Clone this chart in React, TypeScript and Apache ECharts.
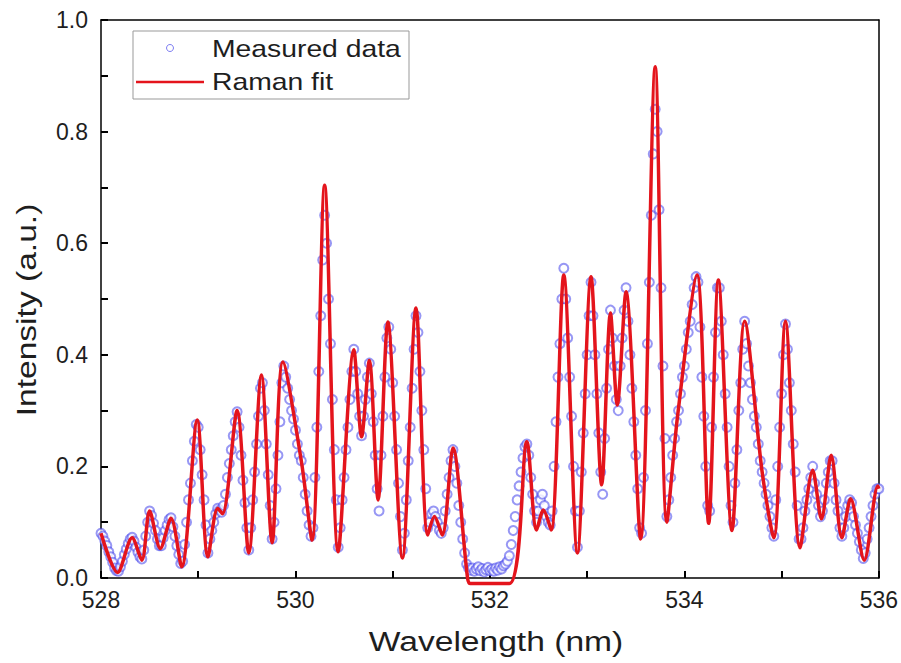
import React, { useEffect, useRef } from "react";
import * as echarts from "echarts";

// Raman fit: key points (wavelength nm, intensity a.u.)
const fitWavelength = [
  528.0, 528.17, 528.32, 528.42, 528.5, 528.61, 528.72, 528.83, 528.99, 529.1,
  529.2, 529.25, 529.4, 529.52, 529.65, 529.76, 529.87, 530.06, 530.17, 530.3,
  530.44, 530.6, 530.68, 530.76, 530.85, 530.95, 531.1, 531.24, 531.36, 531.43,
  531.51, 531.62, 531.77, 531.8, 532.2, 532.38, 532.48, 532.55, 532.63, 532.76,
  532.9, 533.04, 533.15, 533.24, 533.31, 533.4, 533.55, 533.7, 533.82, 533.93,
  534.13, 534.25, 534.35, 534.49, 534.62, 534.8, 534.92, 535.04, 535.19, 535.32,
  535.41, 535.51, 535.62, 535.71, 535.85, 535.99, 536.0,
];
const fitIntensity = [
  0.08, 0.01, 0.072, 0.032, 0.12, 0.053, 0.107, 0.02, 0.283, 0.038,
  0.125, 0.115, 0.3, 0.045, 0.364, 0.063, 0.387, 0.21, 0.068, 0.704,
  0.047, 0.409, 0.253, 0.39, 0.14, 0.459, 0.036, 0.484, 0.077, 0.11,
  0.077, 0.233, 0.0, -0.01, -0.01, 0.244, 0.086, 0.122, 0.086, 0.543,
  0.045, 0.54, 0.167, 0.475, 0.31, 0.513, 0.07, 0.916, 0.1, 0.29,
  0.543, 0.098, 0.534, 0.085, 0.46, 0.19, 0.072, 0.46, 0.054, 0.193,
  0.106, 0.22, 0.072, 0.142, 0.032, 0.165, 0.16,
];

// Measured data: sampled every 0.02 nm from 528.00 to 536.00
const measuredStart = 528.0;
const measuredStep = 0.02;
const measuredIntensity = [
  0.08, 0.075, 0.066, 0.058, 0.047, 0.038, 0.028, 0.018, 0.013, 0.012,
  0.02, 0.03, 0.042, 0.052, 0.062, 0.07, 0.073, 0.066, 0.055, 0.046,
  0.038, 0.034, 0.05, 0.075, 0.1, 0.12, 0.112, 0.098, 0.085, 0.07,
  0.058, 0.058, 0.072, 0.085, 0.095, 0.105, 0.108, 0.092, 0.075, 0.058,
  0.042, 0.026, 0.03, 0.06, 0.1, 0.14, 0.17, 0.21, 0.245, 0.275,
  0.27, 0.23, 0.185, 0.14, 0.095, 0.045, 0.07, 0.085, 0.1, 0.115,
  0.125, 0.122, 0.118, 0.13, 0.15, 0.18, 0.205, 0.23, 0.255, 0.28,
  0.298, 0.27, 0.22, 0.175, 0.135, 0.09, 0.05, 0.09, 0.14, 0.19,
  0.24, 0.29, 0.34, 0.35, 0.3, 0.24, 0.185, 0.13, 0.07, 0.1,
  0.16, 0.22, 0.28, 0.35, 0.38, 0.36, 0.34, 0.32, 0.3, 0.285,
  0.265, 0.24, 0.22, 0.21, 0.18, 0.15, 0.12, 0.095, 0.075, 0.09,
  0.18, 0.27, 0.37, 0.47, 0.57, 0.65, 0.6, 0.5, 0.42, 0.32,
  0.23, 0.14, 0.055, 0.09, 0.14, 0.18, 0.23, 0.27, 0.32, 0.37,
  0.41, 0.37, 0.33, 0.29, 0.255, 0.29, 0.32, 0.36, 0.385, 0.33,
  0.28, 0.22, 0.16, 0.12, 0.22, 0.29, 0.36, 0.43, 0.45, 0.41,
  0.35, 0.29, 0.23, 0.17, 0.11, 0.05, 0.08, 0.14, 0.21, 0.27,
  0.34, 0.41, 0.47, 0.44, 0.37, 0.3, 0.23, 0.16, 0.09, 0.1,
  0.115, 0.12, 0.11, 0.1, 0.085, 0.08, 0.09, 0.12, 0.15, 0.18,
  0.21, 0.23, 0.2, 0.17, 0.13, 0.1, 0.07, 0.045, 0.025, 0.018,
  0.014, 0.018, 0.012, 0.016, 0.02, 0.013, 0.017, 0.011, 0.015, 0.019,
  0.013, 0.016, 0.012, 0.018, 0.014, 0.02, 0.016, 0.022, 0.025, 0.03,
  0.04, 0.06, 0.085, 0.11, 0.14, 0.165, 0.19, 0.215, 0.235, 0.24,
  0.22, 0.18, 0.15, 0.12, 0.1, 0.12, 0.14, 0.15, 0.13, 0.11,
  0.1, 0.095, 0.12, 0.2, 0.28, 0.36, 0.42, 0.5, 0.555, 0.5,
  0.43, 0.36, 0.29, 0.2, 0.12, 0.055, 0.12, 0.19, 0.26, 0.33,
  0.4, 0.47, 0.53, 0.47, 0.4, 0.33, 0.26, 0.19, 0.15, 0.25,
  0.34, 0.41, 0.48, 0.43, 0.38, 0.32, 0.3, 0.38, 0.43, 0.48,
  0.52, 0.46, 0.4, 0.34, 0.28, 0.22, 0.16, 0.09, 0.08, 0.18,
  0.3, 0.42, 0.53, 0.65, 0.76, 0.84, 0.8, 0.66, 0.52, 0.38,
  0.25, 0.11, 0.14, 0.18, 0.22, 0.25, 0.28, 0.3, 0.33, 0.36,
  0.38, 0.41, 0.44, 0.46, 0.49, 0.52, 0.54, 0.53, 0.45, 0.36,
  0.29, 0.2, 0.13, 0.12, 0.27, 0.36, 0.44, 0.52, 0.52, 0.46,
  0.4, 0.33, 0.27, 0.2, 0.13, 0.1, 0.17, 0.23, 0.3, 0.35,
  0.41, 0.46, 0.42, 0.38, 0.35, 0.32, 0.29, 0.27, 0.24, 0.21,
  0.19, 0.17, 0.15, 0.13, 0.11, 0.09, 0.075, 0.14, 0.2, 0.27,
  0.33, 0.4, 0.455, 0.41, 0.35, 0.3, 0.24, 0.19, 0.13, 0.07,
  0.07, 0.09, 0.12, 0.14, 0.16, 0.18, 0.2, 0.17, 0.15, 0.13,
  0.11, 0.12, 0.14, 0.17, 0.19, 0.21, 0.21, 0.17, 0.14, 0.12,
  0.09, 0.075, 0.09, 0.11, 0.13, 0.14, 0.135, 0.11, 0.095, 0.08,
  0.065, 0.05, 0.035, 0.045, 0.07, 0.09, 0.11, 0.13, 0.15, 0.16,
  0.16,
];

const yTickLabels = ["0.0", "0.2", "0.4", "0.6", "0.8", "1.0"];
const xTickLabels = ["528", "530", "532", "534", "536"];

const FONT = "'Liberation Sans', Arial, sans-serif";
const BLUE = "rgba(70,70,235,0.7)";
const RED = "#e4141c";
const TEXT = "#1e1e1e";

export default function App() {
  const ref = useRef<HTMLDivElement>(null);

  useEffect(() => {
    if (!ref.current) return;
    const chart = echarts.init(ref.current, undefined, { renderer: "svg" });

    const fitData = fitWavelength.map((w, i) => [w, fitIntensity[i]]);
    const measuredData = measuredIntensity.map((v, i) => [
      +(measuredStart + i * measuredStep).toFixed(2),
      v,
    ]);

    const tickLine = { color: "#000000", width: 2, type: "solid" };
    const frameAxis = {
      axisLine: { show: true, onZero: false, lineStyle: { color: "#000", width: 1.5 } },
      axisTick: { show: false },
      axisLabel: { show: false },
      splitLine: { show: false },
    };

    chart.setOption({
      animation: false,
      backgroundColor: "#ffffff",
      grid: { left: 101, right: 22, top: 20, bottom: 85 },
      xAxis: [
        {
          type: "value",
          min: 528,
          max: 536,
          interval: 1,
          position: "bottom",
          axisLine: { show: true, onZero: false, lineStyle: { color: "#000", width: 1.5 } },
          axisTick: { show: true, inside: true, length: 7, lineStyle: tickLine },
          splitLine: { show: false },
          axisLabel: {
            show: true,
            interval: 0,
            fontFamily: FONT,
            fontSize: 23,
            color: TEXT,
            margin: 10,
            formatter: (v: number) => xTickLabels.find((t) => +t === v) ?? "",
          },
        },
        { type: "value", min: 528, max: 536, position: "top", ...frameAxis },
      ],
      yAxis: [
        {
          type: "value",
          min: 0,
          max: 1,
          interval: 0.1,
          position: "left",
          axisLine: { show: true, onZero: false, lineStyle: { color: "#000", width: 1.5 } },
          axisTick: { show: true, inside: true, length: 7, lineStyle: tickLine },
          splitLine: { show: false },
          axisLabel: {
            show: true,
            interval: 0,
            fontFamily: FONT,
            fontSize: 23,
            color: TEXT,
            margin: 13,
            formatter: (v: number) => yTickLabels.find((t) => Math.abs(+t - v) < 1e-6) ?? "",
          },
        },
        { type: "value", min: 0, max: 1, position: "right", ...frameAxis },
      ],
      series: [
        {
          name: "Measured data",
          type: "scatter",
          data: measuredData,
          symbol: "emptyCircle",
          symbolSize: 9,
          itemStyle: { color: BLUE, borderColor: BLUE, borderWidth: 1 },
          z: 2,
        },
        {
          name: "Raman fit",
          type: "line",
          data: fitData,
          smooth: 0.3,
          showSymbol: false,
          clip: false,
          lineStyle: { color: RED, width: 3.5 },
          z: 3,
        },
      ],
      graphic: [
        {
          type: "text",
          x: 496,
          y: 641,
          scaleX: 1.2,
          style: {
            text: "Wavelength (nm)",
            fontFamily: FONT,
            fontSize: 28,
            fill: TEXT,
            align: "center",
            verticalAlign: "middle",
          },
        },
        {
          type: "text",
          x: 26,
          y: 310,
          rotation: Math.PI / 2,
          scaleX: 1.2,
          style: {
            text: "Intensity (a.u.)",
            fontFamily: FONT,
            fontSize: 28,
            fill: TEXT,
            align: "center",
            verticalAlign: "middle",
          },
        },
        {
          type: "rect",
          shape: { x: 133, y: 31, width: 276, height: 68 },
          style: { fill: "#fff", stroke: "#999", lineWidth: 1 },
          z: 10,
        },
        {
          type: "circle",
          shape: { cx: 170, cy: 48, r: 3.5 },
          style: { fill: "#fff", stroke: BLUE, lineWidth: 1 },
          z: 11,
        },
        {
          type: "line",
          shape: { x1: 136, y1: 82, x2: 204, y2: 82 },
          style: { stroke: RED, lineWidth: 2.5 },
          z: 11,
        },
        {
          type: "text",
          x: 212,
          y: 49,
          scaleX: 1.18,
          style: {
            text: "Measured data",
            fontFamily: FONT,
            fontSize: 24,
            fill: TEXT,
            verticalAlign: "middle",
          },
          z: 11,
        },
        {
          type: "text",
          x: 212,
          y: 82,
          scaleX: 1.18,
          style: {
            text: "Raman fit",
            fontFamily: FONT,
            fontSize: 24,
            fill: TEXT,
            verticalAlign: "middle",
          },
          z: 11,
        },
      ],
    });

    return () => chart.dispose();
  }, []);

  return <div ref={ref} style={{ width: 901, height: 663, position: "absolute", left: 0, top: 0 }} />;
}
